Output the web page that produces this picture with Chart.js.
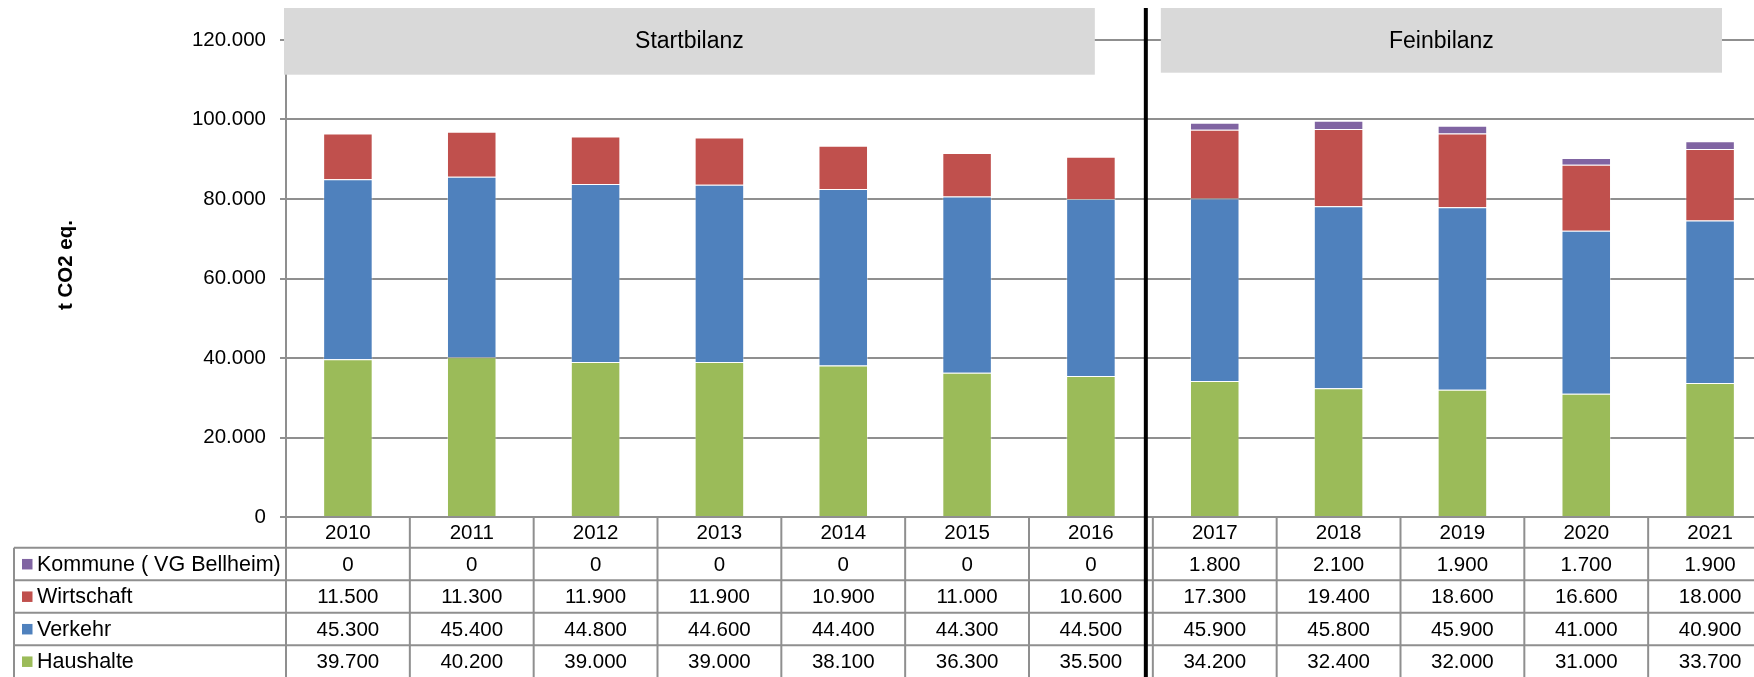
<!DOCTYPE html>
<html>
<head>
<meta charset="utf-8">
<script src="https://cdn.jsdelivr.net/npm/chart.js@4/dist/chart.umd.min.js"></script>
<style>
  html, body { margin: 0; padding: 0; background: #fff; overflow: hidden; }
  #wrap { width: 1772px; height: 677px; }
</style>
</head>
<body>
<div id="wrap"><canvas id="co2Chart" width="1772" height="677"></canvas></div>
<script>
// THG-Bilanz VG Bellheim (t CO2 eq.)
const years = ['2010', '2011', '2012', '2013', '2014', '2015', '2016', '2017', '2018', '2019', '2020', '2021'];
const haushalte = [39700, 40200, 39000, 39000, 38100, 36300, 35500, 34200, 32400, 32000, 31000, 33700];
const verkehr = [45300, 45400, 44800, 44600, 44400, 44300, 44500, 45900, 45800, 45900, 41000, 40900];
const wirtschaft = [11500, 11300, 11900, 11900, 10900, 11000, 10600, 17300, 19400, 18600, 16600, 18000];
const kommune = [0, 0, 0, 0, 0, 0, 0, 1800, 2100, 1900, 1700, 1900];
const phaseNames = ['Startbilanz', 'Feinbilanz'];
const phaseStart = [0, 7];
const phaseEnd = [6, 11];

const FONT = "'Liberation Sans', Arial, sans-serif";
const LINE = '#8f8f8f';

// German number format: 45.300
const fmt = v => String(Math.round(v)).replace(/\B(?=(\d{3})+(?!\d))/g, '.');

const series = [
    { label: 'Haushalte', data: haushalte, color: '#9BBB59' },
    { label: 'Verkehr', data: verkehr, color: '#4F81BD' },
    { label: 'Wirtschaft', data: wirtschaft, color: '#C0504D' },
    { label: 'Kommune ( VG Bellheim)', data: kommune, color: '#8064A2' }
];

// table, phase boxes, divider and axis title
const overlay = {
    id: 'overlay',
    afterDraw(chart) {
        const ctx = chart.ctx;
        const x = chart.scales.x;
        const area = chart.chartArea;
        const colW = (x.right - x.left) / years.length;
        const colX = i => x.left + i * colW;

        const top = area.bottom;
        const yearBottom = top + 30.7;
        const rowH = 32.5;
        const tableLeft = 14;
        const tableBottom = chart.height + 2;

        ctx.save();
        ctx.strokeStyle = LINE;
        ctx.lineWidth = 2;

        // horizontal lines
        for (let r = 0; r < 4; r++) {
            const yy = yearBottom + r * rowH;
            ctx.beginPath();
            ctx.moveTo(tableLeft, yy);
            ctx.lineTo(x.right, yy);
            ctx.stroke();
        }
        // vertical lines
        ctx.beginPath();
        ctx.moveTo(tableLeft, yearBottom);
        ctx.lineTo(tableLeft, tableBottom);
        ctx.stroke();
        for (let i = 0; i <= years.length; i++) {
            ctx.beginPath();
            ctx.moveTo(colX(i), top);
            ctx.lineTo(colX(i), tableBottom);
            ctx.stroke();
        }

        ctx.fillStyle = '#000';
        ctx.font = '20.5px ' + FONT;
        ctx.textBaseline = 'middle';
        ctx.textAlign = 'center';
        years.forEach((yr, i) => ctx.fillText(yr, x.getPixelForValue(i), (top + yearBottom) / 2 + 1));

        const rows = series.slice().reverse();
        rows.forEach((s, r) => {
            const cy = yearBottom + r * rowH + rowH / 2 + 1;
            ctx.fillStyle = s.color;
            ctx.fillRect(22, cy - 6, 10.5, 10.5);
            ctx.fillStyle = '#000';
            ctx.textAlign = 'left';
            ctx.font = '21.5px ' + FONT;
            ctx.fillText(s.label, 37, cy);
            ctx.textAlign = 'center';
            ctx.font = '20.5px ' + FONT;
            s.data.forEach((v, i) => ctx.fillText(fmt(v), x.getPixelForValue(i), cy));
        });

        // phase header boxes
        const boxInset = [[-2, 58], [8, 50]];
        const boxBottom = [74.7, 72.7];
        ctx.font = '23px ' + FONT;
        phaseNames.forEach((name, p) => {
            const l = colX(phaseStart[p]) + boxInset[p][0];
            const rgt = colX(phaseEnd[p] + 1) - boxInset[p][1];
            ctx.fillStyle = '#D9D9D9';
            ctx.fillRect(l, 8, rgt - l, boxBottom[p] - 8);
            ctx.fillStyle = '#000';
            ctx.textAlign = 'center';
            ctx.fillText(name, (l + rgt) / 2, 41.5);
        });

        // divider between Startbilanz and Feinbilanz
        const divX = colX(phaseStart[1]) - 7;
        ctx.strokeStyle = '#000';
        ctx.lineWidth = 4;
        ctx.beginPath();
        ctx.moveTo(divX, 8);
        ctx.lineTo(divX, tableBottom);
        ctx.stroke();

        // y axis title
        ctx.translate(66, 265);
        ctx.rotate(-Math.PI / 2);
        ctx.font = 'bold 20.5px ' + FONT;
        ctx.fillStyle = '#000';
        ctx.textAlign = 'center';
        ctx.fillText('t CO2 eq.', 0, 0);
        ctx.restore();
    }
};

new Chart(document.getElementById('co2Chart'), {
    type: 'bar',
    data: {
        labels: years,
        datasets: series.map(s => ({
            label: s.label,
            data: s.data,
            backgroundColor: s.color,
            borderColor: 'rgba(255,255,255,0.35)',
            borderWidth: 1,
            barPercentage: 0.4,
            categoryPercentage: 1.0
        }))
    },
    options: {
        responsive: false,
        animation: false,
        layout: { padding: { top: 40, bottom: 160, left: 0, right: 0 } },
        plugins: { legend: { display: false }, tooltip: { enabled: false } },
        scales: {
            x: { stacked: true, display: false },
            y: {
                stacked: true,
                min: 0,
                max: 120000,
                afterFit: scale => { scale.width = 286; },
                ticks: {
                    stepSize: 20000,
                    padding: 14,
                    color: '#000',
                    font: { family: FONT, size: 20.5 },
                    callback: v => fmt(v)
                },
                grid: { color: LINE, lineWidth: 2, tickLength: 6 },
                border: { color: LINE, width: 2 }
            }
        }
    },
    plugins: [overlay]
});
</script>
</body>
</html>
